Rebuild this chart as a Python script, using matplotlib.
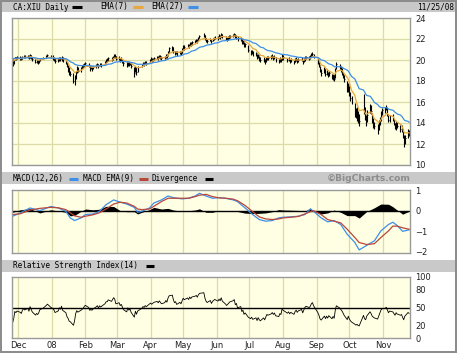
import numpy as np
import pandas as pd
import matplotlib
matplotlib.use("Agg")
import matplotlib.pyplot as plt
from matplotlib.patches import Rectangle
from matplotlib.lines import Line2D

# ---------------------------------------------------------------------------
# Data: CA:XIU daily bars, 26 Nov 2007 - 25 Nov 2008
# ---------------------------------------------------------------------------
HOLIDAYS = ["2007-12-25", "2007-12-26", "2008-01-01", "2008-02-18", "2008-03-21",
            "2008-05-19", "2008-07-01", "2008-08-04", "2008-09-01", "2008-10-13"]

close = [
    19.7, 19.9, 20.3, 20.2, 20.3,                                                    # Nov
    20.2, 20.1, 20.3, 20.4, 20.3, 20.4, 20.2, 20.5, 20.3, 20.1, 19.8, 19.9, 19.8,
    19.9, 20.1, 20.2, 20.4, 20.5, 20.3,                                              # Dec
    20.2, 20.1, 19.9, 20.0, 20.2, 20.1, 20.3, 20.0, 19.8, 19.4, 19.2, 18.8, 18.7,
    18.0, 18.3, 18.9, 19.2, 19.0, 19.2, 19.3, 19.4, 19.6,                            # Jan
    19.7, 19.5, 19.2, 19.3, 19.2, 19.3, 19.5, 19.6, 19.4, 19.6, 19.5, 19.8, 20.0,
    20.0, 20.2, 20.1, 20.3, 20.5, 20.4, 20.1,                                        # Feb
    20.2, 20.0, 20.1, 19.9, 19.7, 19.5, 19.8, 19.6, 19.7, 19.4, 18.8, 19.3, 18.9,
    19.2, 19.5, 19.7, 19.6, 19.8, 19.7, 20.0,                                        # Mar
    20.1, 20.0, 20.1, 20.2, 20.3, 20.2, 20.4, 20.3, 20.2, 20.3, 20.5, 20.4, 20.8,
    21.1, 21.2, 20.9, 20.7, 20.8, 20.6, 20.8, 20.7, 21.0,                            # Apr
    21.3, 21.2, 21.4, 21.3, 21.6, 21.5, 21.7, 21.8, 21.9, 21.8, 22.1, 22.3, 22.4,
    22.1, 21.9, 21.8, 22.0, 21.8, 22.0, 22.1, 22.2,                                  # May
    22.1, 22.3, 22.2, 22.5, 22.3, 22.1, 22.0, 22.1, 22.2, 22.3, 22.4, 22.5, 22.2,
    22.3, 22.0, 22.1, 21.7, 21.8, 21.4, 21.5, 21.0,                                  # Jun
    20.8, 20.9, 20.6, 20.7, 20.3, 20.5, 20.2, 20.0, 20.2, 19.9, 20.1, 20.3, 20.2,
    20.3, 20.4, 20.2, 20.3, 20.0, 19.9, 20.1, 20.0, 20.4,                            # Jul
    20.3, 20.0, 20.1, 19.9, 20.0, 19.8, 20.0, 20.1, 19.9, 20.0, 20.1, 19.8, 20.0,
    20.2, 20.3, 20.2, 20.3, 20.5, 20.6, 20.4,                                        # Aug
    19.8, 19.5, 19.0, 18.8, 19.1, 18.7, 18.9, 18.6, 18.8, 18.3, 18.5, 18.2, 19.0,
    19.6, 19.3, 19.1, 18.9, 18.6, 18.2, 17.2, 17.6,                                  # Sep
    16.9, 16.4, 16.0, 15.2, 14.8, 14.9, 14.4, 14.2, 15.6, 14.5, 14.2, 14.8, 15.6,
    15.1, 14.3, 14.0, 13.7, 13.3, 13.8, 14.3, 14.9, 15.2,                            # Oct
    15.3, 15.5, 14.9, 14.3, 14.6, 14.4, 14.0, 13.6, 14.0, 13.7, 13.4, 13.5, 12.8,
    12.1, 12.6, 13.2, 13.0,                                                          # Nov
]

high = [
    20.1, 20.0, 20.3, 20.3, 20.4,
    20.4, 20.3, 20.4, 20.5, 20.5, 20.5, 20.5, 20.6, 20.5, 20.3, 20.1, 20.0, 20.0,
    20.0, 20.2, 20.3, 20.5, 20.6, 20.5,
    20.5, 20.3, 20.2, 20.2, 20.3, 20.3, 20.4, 20.3, 20.0, 19.8, 19.5, 19.3, 19.0,
    18.8, 18.6, 19.0, 19.4, 19.3, 19.3, 19.5, 19.6, 19.7,
    19.8, 19.7, 19.5, 19.4, 19.4, 19.4, 19.6, 19.7, 19.6, 19.7, 19.7, 19.9, 20.1,
    20.2, 20.3, 20.3, 20.4, 20.6, 20.6, 20.4,
    20.4, 20.2, 20.3, 20.1, 19.9, 19.8, 19.9, 19.8, 19.8, 19.7, 19.3, 19.4, 19.3,
    19.4, 19.6, 19.8, 19.8, 19.9, 19.9, 20.1,
    20.3, 20.2, 20.2, 20.3, 20.4, 20.4, 20.5, 20.5, 20.4, 20.4, 20.6, 20.6, 20.9,
    21.2, 21.3, 21.2, 20.9, 20.9, 20.9, 20.9, 20.9, 21.1,
    21.4, 21.4, 21.5, 21.5, 21.7, 21.7, 21.8, 21.9, 22.0, 22.0, 22.2, 22.4, 22.6,
    22.4, 22.1, 22.0, 22.1, 22.0, 22.1, 22.2, 22.3,
    22.3, 22.5, 22.4, 22.6, 22.5, 22.3, 22.2, 22.3, 22.4, 22.4, 22.5, 22.6, 22.5,
    22.4, 22.3, 22.2, 22.0, 21.9, 21.7, 21.6, 21.4,
    21.0, 21.0, 20.9, 20.8, 20.6, 20.6, 20.4, 20.3, 20.3, 20.1, 20.3, 20.4, 20.4,
    20.5, 20.6, 20.4, 20.5, 20.3, 20.1, 20.3, 20.2, 20.6,
    20.5, 20.2, 20.3, 20.1, 20.2, 20.0, 20.2, 20.3, 20.1, 20.2, 20.3, 20.0, 20.2,
    20.4, 20.4, 20.4, 20.5, 20.7, 20.8, 20.6,
    20.2, 19.8, 19.4, 19.1, 19.3, 19.1, 19.1, 18.9, 19.0, 18.7, 18.7, 18.7, 19.2,
    19.8, 19.6, 19.4, 19.2, 18.9, 18.6, 18.0, 17.8,
    17.5, 17.0, 16.6, 15.9, 15.4, 15.5, 15.1, 14.9, 16.8, 15.5, 14.8, 15.2, 15.8,
    15.7, 15.0, 14.5, 14.1, 13.9, 14.3, 14.6, 15.1, 15.4,
    15.5, 15.7, 15.4, 14.8, 14.8, 14.9, 14.4, 14.0, 14.2, 14.1, 13.8, 13.8, 13.4,
    12.9, 12.9, 13.4, 13.3,
]

low = [
    19.4, 19.6, 20.0, 20.0, 20.1,
    20.0, 20.0, 20.1, 20.2, 20.2, 20.2, 20.1, 20.2, 20.1, 19.9, 19.7, 19.7, 19.6,
    19.7, 19.9, 20.1, 20.2, 20.3, 20.2,
    20.0, 19.9, 19.7, 19.8, 19.9, 19.9, 19.9, 19.8, 19.6, 19.3, 18.9, 18.6, 18.5,
    17.8, 17.6, 18.2, 18.8, 18.9, 18.9, 19.1, 19.2, 19.3,
    19.4, 19.3, 19.0, 19.1, 19.0, 19.1, 19.2, 19.4, 19.2, 19.4, 19.3, 19.5, 19.7,
    19.8, 19.9, 19.9, 20.0, 20.2, 20.2, 20.0,
    20.0, 19.8, 19.9, 19.7, 19.4, 19.3, 19.4, 19.4, 19.5, 19.2, 18.4, 18.9, 18.6,
    18.9, 19.3, 19.5, 19.4, 19.6, 19.5, 19.7,
    19.9, 19.8, 19.9, 20.0, 20.1, 20.0, 20.2, 20.1, 20.0, 20.1, 20.2, 20.2, 20.5,
    20.8, 20.9, 20.7, 20.5, 20.6, 20.4, 20.6, 20.5, 20.7,
    21.0, 21.0, 21.2, 21.1, 21.3, 21.3, 21.4, 21.6, 21.7, 21.6, 21.8, 22.1, 22.2,
    21.9, 21.7, 21.6, 21.8, 21.6, 21.8, 21.9, 22.0,
    21.9, 22.1, 22.0, 22.2, 22.1, 21.9, 21.8, 21.9, 22.0, 22.1, 22.2, 22.3, 22.1,
    22.0, 21.8, 21.8, 21.5, 21.5, 21.2, 21.2, 20.8,
    20.5, 20.6, 20.4, 20.4, 20.1, 20.2, 19.9, 19.8, 19.8, 19.6, 19.8, 20.0, 20.0,
    20.1, 20.2, 20.0, 20.1, 19.8, 19.7, 19.8, 19.8, 20.0,
    20.0, 19.8, 19.9, 19.7, 19.8, 19.6, 19.8, 19.9, 19.7, 19.8, 19.9, 19.6, 19.8,
    19.9, 20.1, 20.0, 20.1, 20.3, 20.4, 20.2,
    19.6, 19.3, 18.9, 18.5, 18.8, 18.5, 18.6, 18.4, 18.5, 18.2, 18.1, 18.0, 18.3,
    19.1, 19.1, 18.9, 18.6, 18.3, 17.9, 17.0, 17.0,
    16.6, 16.1, 15.8, 14.6, 14.5, 14.2, 14.0, 13.7, 14.9, 14.3, 13.7, 14.1, 15.0,
    14.9, 14.0, 13.5, 13.4, 13.0, 13.3, 13.8, 14.2, 14.8,
    15.0, 15.2, 14.7, 14.1, 14.1, 14.2, 13.8, 13.4, 13.3, 13.5, 13.1, 13.1, 12.6,
    11.7, 12.0, 12.6, 12.8,
]

# MACD(12,26) and its EMA(9)
macd_dates = [
    "2007-11-26", "2007-12-03", "2007-12-12", "2007-12-21", "2007-12-31", "2008-01-07",
    "2008-01-14", "2008-01-18", "2008-01-22", "2008-01-28", "2008-02-01", "2008-02-08",
    "2008-02-14", "2008-02-20", "2008-02-27", "2008-03-04", "2008-03-10", "2008-03-17",
    "2008-03-20", "2008-03-24", "2008-03-31", "2008-04-04", "2008-04-11", "2008-04-17",
    "2008-04-22", "2008-04-30", "2008-05-06", "2008-05-12", "2008-05-16", "2008-05-22",
    "2008-05-28", "2008-06-03", "2008-06-09", "2008-06-16", "2008-06-20", "2008-06-27",
    "2008-07-04", "2008-07-10", "2008-07-16", "2008-07-22", "2008-07-28", "2008-08-01",
    "2008-08-08", "2008-08-15", "2008-08-21", "2008-08-26", "2008-08-29", "2008-09-05",
    "2008-09-11", "2008-09-17", "2008-09-23", "2008-09-29", "2008-10-06", "2008-10-10",
    "2008-10-17", "2008-10-24", "2008-10-30", "2008-11-06", "2008-11-10", "2008-11-14",
    "2008-11-19", "2008-11-25",
]
macd_line = [
    -0.27, -0.11, 0.13, 0.00, 0.20, 0.13, -0.03, -0.35, -0.48, -0.35, -0.19, -0.16,
    -0.03, 0.29, 0.52, 0.41, 0.32, 0.16, -0.08, -0.03, 0.13, 0.37, 0.52, 0.71,
    0.63, 0.57, 0.60, 0.71, 0.84, 0.71, 0.60, 0.63, 0.60, 0.52, 0.44, 0.13,
    -0.19, -0.43, -0.51, -0.48, -0.35, -0.32, -0.30, -0.27, -0.19, 0.08, -0.03, -0.35,
    -0.54, -0.48, -0.67, -1.14, -1.54, -1.90, -1.68, -1.46, -0.98, -0.67, -0.56, -0.72,
    -1.00, -0.93,
]
macd_signal = [
    -0.19, -0.15, 0.03, 0.11, 0.16, 0.14, 0.05, -0.10, -0.25, -0.32, -0.27, -0.20,
    -0.10, 0.08, 0.32, 0.41, 0.37, 0.21, 0.08, 0.05, 0.08, 0.21, 0.44, 0.60,
    0.60, 0.60, 0.60, 0.68, 0.75, 0.79, 0.68, 0.62, 0.60, 0.56, 0.48, 0.25,
    -0.05, -0.30, -0.40, -0.43, -0.40, -0.35, -0.32, -0.28, -0.16, -0.05, 0.00, -0.19,
    -0.43, -0.51, -0.59, -0.90, -1.30, -1.54, -1.64, -1.60, -1.30, -0.98, -0.75, -0.75,
    -0.83, -0.90,
]

# starting levels of the indicators, read at the left edge of each panel
EMA7_START = 20.0
EMA27_START = 20.2
RSI_GAIN_START = 0.04
RSI_LOSS_START = 0.12

MONTH_LABELS = ["Dec", "08", "Feb", "Mar", "Apr", "May", "Jun", "Jul", "Aug", "Sep", "Oct", "Nov"]
PRICE_TICKS = [10, 12, 14, 16, 18, 20, 22, 24]
MACD_TICKS = [-2, -1, 0, 1]
RSI_TICKS = [0, 20, 50, 80, 100]


def ema(values, alpha, start):
    out, e = [], start
    for v in values:
        e += alpha * (v - e)
        out.append(e)
    return np.array(out)


# ---------------------------------------------------------------------------
# Indicators
# ---------------------------------------------------------------------------
dates = pd.bdate_range("2007-11-26", "2008-11-25")
dates = dates[~dates.isin(pd.to_datetime(HOLIDAYS))]
df = pd.DataFrame({"close": close, "high": high, "low": low}, index=dates)
c = df["close"].to_numpy()

ema7 = ema(c, 2 / 8, EMA7_START)
ema27 = ema(c, 2 / 28, EMA27_START)

mdates_ = pd.to_datetime(macd_dates)
macd = np.array(macd_line)
signal = np.array(macd_signal)
diverg = macd - signal

delta = np.diff(c, prepend=c[0])
gain = ema(np.clip(delta, 0, None), 1 / 14, RSI_GAIN_START)
loss = ema(np.clip(-delta, 0, None), 1 / 14, RSI_LOSS_START)
rsi = 100 - 100 / (1 + gain / loss)

# ---------------------------------------------------------------------------
# Figure
# ---------------------------------------------------------------------------
W, H = 463, 354
fig = plt.figure(figsize=(W / 100, H / 100), dpi=100)
fig.patch.set_facecolor("white")

PANEL = "#ffffe3"
GRID = "#dcdca8"
BAND = "#c9c9c9"
MONO = "DejaVu Sans Mono"


def px_axes(x0, y0, x1, y1):
    return fig.add_axes([x0 / W, 1 - y1 / H, (x1 - x0) / W, (y1 - y0) / H])


def px_rect(x0, y0, x1, y1, **kw):
    fig.add_artist(Rectangle((x0 / W, 1 - y1 / H), (x1 - x0) / W, (y1 - y0) / H,
                             transform=fig.transFigure, **kw))


def px_text(x, y, s, **kw):
    fig.text(x / W, 1 - y / H, s, va="center", **kw)


def px_swatch(x0, x1, y, color):
    fig.add_artist(Line2D([x0 / W, x1 / W], [1 - y / H, 1 - y / H], color=color,
                          lw=2.2, solid_capstyle="butt", transform=fig.transFigure))


# header bands
px_rect(2, 1, 456, 12, facecolor=BAND, edgecolor="none")
px_rect(2, 172, 456, 184, facecolor=BAND, edgecolor="none")
px_rect(2, 260, 456, 272, facecolor=BAND, edgecolor="none")
# outer frame
px_rect(1, 0.5, 456, 352, facecolor="none", edgecolor="#8a8a8a", lw=1.4)

px_text(13, 7, "CA:XIU Daily", family=MONO, fontsize=5.6)
px_swatch(72, 82, 7, "black")
px_text(100, 7, "EMA(7)", family=MONO, fontsize=5.6)
px_swatch(133, 143, 7, "#e8a640")
px_text(151, 7, "EMA(27)", family=MONO, fontsize=5.6)
px_swatch(188, 198, 7, "#3d8fe8")
px_text(417, 7, "11/25/08", family=MONO, fontsize=5.6)

px_text(13, 179, "MACD(12,26)", family=MONO, fontsize=5.6)
px_swatch(69, 78, 179, "#3d8fe8")
px_text(83, 179, "MACD EMA(9)", family=MONO, fontsize=5.6)
px_swatch(139, 148, 179, "#b8473c")
px_text(152, 179, "Divergence", family=MONO, fontsize=5.6)
px_swatch(205, 213, 179, "black")
px_text(411, 179, "\u00a9BigCharts.com", fontsize=6.6, fontweight="bold",
        color="#8c8c8c", ha="right")

px_text(13, 266, "Relative Strength Index(14)", family=MONO, fontsize=5.6)
px_swatch(146, 154, 266, "black")

ax1 = px_axes(12, 18, 410, 165)
ax2 = px_axes(12, 190, 410, 253)
ax3 = px_axes(12, 277, 410, 338)

month_starts = pd.date_range("2007-12-01", "2008-11-01", freq="MS")
xlim = (dates[0] - pd.Timedelta(days=0.6), dates[-1] + pd.Timedelta(days=0.8))

for ax in (ax1, ax2, ax3):
    ax.set_facecolor(PANEL)
    ax.set_xlim(xlim)
    ax.set_xticks(month_starts)
    ax.xaxis.grid(True, color=GRID, lw=0.9)
    ax.yaxis.tick_right()
    ax.tick_params(length=0, labelsize=6, pad=4, colors="#222222")
    ax.set_axisbelow(True)
    for sp in ax.spines.values():
        sp.set_color("#9a9a9a")
        sp.set_linewidth(1.0)
    ax.set_xticklabels([])

# price panel
ax1.vlines(df.index, df["low"], df["high"], color="black", lw=0.8)
ax1.hlines(df["close"], df.index, df.index + pd.Timedelta(days=0.7), color="black", lw=0.6)
ax1.plot(df.index, ema7, color="#e8a640", lw=0.9)
ax1.plot(df.index, ema27, color="#3d8fe8", lw=0.9)
ax1.set_ylim(10, 24)
ax1.set_yticks(PRICE_TICKS)
ax1.yaxis.grid(True, color=GRID, lw=0.9)

# MACD panel
ax2.fill_between(mdates_, 0, diverg, color="black", lw=0)
ax2.axhline(0, color="black", lw=1.0)
ax2.plot(mdates_, macd, color="#3d8fe8", lw=0.9)
ax2.plot(mdates_, signal, color="#b8473c", lw=0.9)
ax2.set_ylim(-2.05, 1.0)
ax2.set_yticks(MACD_TICKS)

# RSI panel
ax3.plot(df.index, rsi, color="black", lw=0.6)
ax3.axhline(50, color="black", lw=1.0)
ax3.set_ylim(0, 100)
ax3.set_yticks(RSI_TICKS)
ax3.set_yticks([20, 80], minor=True)
ax3.yaxis.grid(True, which="minor", color=GRID, lw=0.9)
ax3.tick_params(which="minor", length=0)
ax3.set_xticklabels(MONTH_LABELS)
ax3.tick_params(axis="x", pad=2.5)

fig.savefig("out.png", dpi=100, facecolor="white")
